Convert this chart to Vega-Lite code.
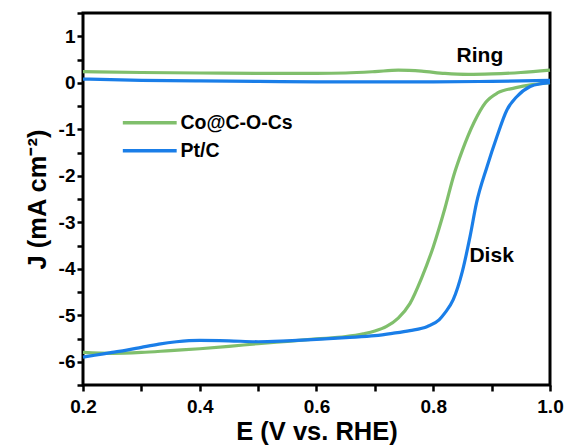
{
  "$schema": "https://vega.github.io/schema/vega-lite/v6.json",
  "width": 467,
  "height": 372,
  "autosize": "none",
  "padding": {"left": 83, "top": 13, "right": 16, "bottom": 60},
  "background": "white",
  "config": {
    "font": "Liberation Sans",
    "view": {"stroke": "black", "strokeWidth": 3},
    "axis": {
      "domain": false,
      "grid": false,
      "tickColor": "black",
      "tickWidth": 2.5,
      "tickSize": 6,
      "labelColor": "black",
      "labelFont": "Liberation Sans",
      "labelFontWeight": "bold",
      "labelFontSize": 19,
      "titleFont": "Liberation Sans",
      "titleFontWeight": "bold",
      "titleFontSize": 25.5,
      "titleColor": "black",
      "labelFlush": false
    }
  },
  "datasets": {
    "curves": [
      {"E": 0.20, "J": -5.80, "sample": "Co@C-O-Cs", "part": "disk"},
      {"E": 0.25, "J": -5.82, "sample": "Co@C-O-Cs", "part": "disk"},
      {"E": 0.30, "J": -5.80, "sample": "Co@C-O-Cs", "part": "disk"},
      {"E": 0.35, "J": -5.76, "sample": "Co@C-O-Cs", "part": "disk"},
      {"E": 0.40, "J": -5.72, "sample": "Co@C-O-Cs", "part": "disk"},
      {"E": 0.45, "J": -5.67, "sample": "Co@C-O-Cs", "part": "disk"},
      {"E": 0.50, "J": -5.61, "sample": "Co@C-O-Cs", "part": "disk"},
      {"E": 0.55, "J": -5.56, "sample": "Co@C-O-Cs", "part": "disk"},
      {"E": 0.60, "J": -5.51, "sample": "Co@C-O-Cs", "part": "disk"},
      {"E": 0.65, "J": -5.46, "sample": "Co@C-O-Cs", "part": "disk"},
      {"E": 0.68, "J": -5.40, "sample": "Co@C-O-Cs", "part": "disk"},
      {"E": 0.70, "J": -5.34, "sample": "Co@C-O-Cs", "part": "disk"},
      {"E": 0.72, "J": -5.24, "sample": "Co@C-O-Cs", "part": "disk"},
      {"E": 0.74, "J": -5.06, "sample": "Co@C-O-Cs", "part": "disk"},
      {"E": 0.76, "J": -4.75, "sample": "Co@C-O-Cs", "part": "disk"},
      {"E": 0.78, "J": -4.20, "sample": "Co@C-O-Cs", "part": "disk"},
      {"E": 0.80, "J": -3.53, "sample": "Co@C-O-Cs", "part": "disk"},
      {"E": 0.82, "J": -2.70, "sample": "Co@C-O-Cs", "part": "disk"},
      {"E": 0.835, "J": -2.00, "sample": "Co@C-O-Cs", "part": "disk"},
      {"E": 0.85, "J": -1.45, "sample": "Co@C-O-Cs", "part": "disk"},
      {"E": 0.87, "J": -0.85, "sample": "Co@C-O-Cs", "part": "disk"},
      {"E": 0.89, "J": -0.42, "sample": "Co@C-O-Cs", "part": "disk"},
      {"E": 0.91, "J": -0.22, "sample": "Co@C-O-Cs", "part": "disk"},
      {"E": 0.94, "J": -0.11, "sample": "Co@C-O-Cs", "part": "disk"},
      {"E": 0.97, "J": -0.04, "sample": "Co@C-O-Cs", "part": "disk"},
      {"E": 1.00, "J": 0.00, "sample": "Co@C-O-Cs", "part": "disk"},
      {"E": 0.20, "J": 0.24, "sample": "Co@C-O-Cs", "part": "ring"},
      {"E": 0.30, "J": 0.22, "sample": "Co@C-O-Cs", "part": "ring"},
      {"E": 0.40, "J": 0.21, "sample": "Co@C-O-Cs", "part": "ring"},
      {"E": 0.50, "J": 0.20, "sample": "Co@C-O-Cs", "part": "ring"},
      {"E": 0.60, "J": 0.20, "sample": "Co@C-O-Cs", "part": "ring"},
      {"E": 0.65, "J": 0.21, "sample": "Co@C-O-Cs", "part": "ring"},
      {"E": 0.70, "J": 0.24, "sample": "Co@C-O-Cs", "part": "ring"},
      {"E": 0.74, "J": 0.27, "sample": "Co@C-O-Cs", "part": "ring"},
      {"E": 0.78, "J": 0.25, "sample": "Co@C-O-Cs", "part": "ring"},
      {"E": 0.82, "J": 0.20, "sample": "Co@C-O-Cs", "part": "ring"},
      {"E": 0.86, "J": 0.18, "sample": "Co@C-O-Cs", "part": "ring"},
      {"E": 0.90, "J": 0.19, "sample": "Co@C-O-Cs", "part": "ring"},
      {"E": 0.95, "J": 0.22, "sample": "Co@C-O-Cs", "part": "ring"},
      {"E": 1.00, "J": 0.27, "sample": "Co@C-O-Cs", "part": "ring"},
      {"E": 0.20, "J": -5.90, "sample": "Pt/C", "part": "disk"},
      {"E": 0.22, "J": -5.86, "sample": "Pt/C", "part": "disk"},
      {"E": 0.25, "J": -5.80, "sample": "Pt/C", "part": "disk"},
      {"E": 0.275, "J": -5.75, "sample": "Pt/C", "part": "disk"},
      {"E": 0.30, "J": -5.69, "sample": "Pt/C", "part": "disk"},
      {"E": 0.33, "J": -5.62, "sample": "Pt/C", "part": "disk"},
      {"E": 0.36, "J": -5.57, "sample": "Pt/C", "part": "disk"},
      {"E": 0.40, "J": -5.54, "sample": "Pt/C", "part": "disk"},
      {"E": 0.45, "J": -5.55, "sample": "Pt/C", "part": "disk"},
      {"E": 0.50, "J": -5.57, "sample": "Pt/C", "part": "disk"},
      {"E": 0.55, "J": -5.55, "sample": "Pt/C", "part": "disk"},
      {"E": 0.60, "J": -5.52, "sample": "Pt/C", "part": "disk"},
      {"E": 0.65, "J": -5.48, "sample": "Pt/C", "part": "disk"},
      {"E": 0.70, "J": -5.44, "sample": "Pt/C", "part": "disk"},
      {"E": 0.73, "J": -5.39, "sample": "Pt/C", "part": "disk"},
      {"E": 0.76, "J": -5.33, "sample": "Pt/C", "part": "disk"},
      {"E": 0.79, "J": -5.24, "sample": "Pt/C", "part": "disk"},
      {"E": 0.81, "J": -5.10, "sample": "Pt/C", "part": "disk"},
      {"E": 0.82, "J": -4.95, "sample": "Pt/C", "part": "disk"},
      {"E": 0.834, "J": -4.67, "sample": "Pt/C", "part": "disk"},
      {"E": 0.85, "J": -4.05, "sample": "Pt/C", "part": "disk"},
      {"E": 0.863, "J": -3.31, "sample": "Pt/C", "part": "disk"},
      {"E": 0.874, "J": -2.59, "sample": "Pt/C", "part": "disk"},
      {"E": 0.892, "J": -1.81, "sample": "Pt/C", "part": "disk"},
      {"E": 0.909, "J": -1.16, "sample": "Pt/C", "part": "disk"},
      {"E": 0.926, "J": -0.59, "sample": "Pt/C", "part": "disk"},
      {"E": 0.943, "J": -0.30, "sample": "Pt/C", "part": "disk"},
      {"E": 0.966, "J": -0.08, "sample": "Pt/C", "part": "disk"},
      {"E": 0.985, "J": -0.02, "sample": "Pt/C", "part": "disk"},
      {"E": 1.00, "J": 0.00, "sample": "Pt/C", "part": "disk"},
      {"E": 0.20, "J": 0.08, "sample": "Pt/C", "part": "ring"},
      {"E": 0.30, "J": 0.05, "sample": "Pt/C", "part": "ring"},
      {"E": 0.40, "J": 0.04, "sample": "Pt/C", "part": "ring"},
      {"E": 0.50, "J": 0.03, "sample": "Pt/C", "part": "ring"},
      {"E": 0.60, "J": 0.02, "sample": "Pt/C", "part": "ring"},
      {"E": 0.70, "J": 0.02, "sample": "Pt/C", "part": "ring"},
      {"E": 0.80, "J": 0.02, "sample": "Pt/C", "part": "ring"},
      {"E": 0.90, "J": 0.03, "sample": "Pt/C", "part": "ring"},
      {"E": 1.00, "J": 0.05, "sample": "Pt/C", "part": "ring"}
    ],
    "notes": [
      {"E": 0.880, "J": 0.58, "label": "Ring"},
      {"E": 0.900, "J": -3.73, "label": "Disk"}
    ]
  },
  "encoding": {
    "x": {
      "field": "E", "type": "quantitative",
      "scale": {"domain": [0.2, 1.0], "nice": false, "zero": false},
      "axis": {
        "title": "E (V vs. RHE)",
        "values": [0.2, 0.3, 0.4, 0.5, 0.6, 0.7, 0.8, 0.9, 1.0],
        "labelOverlap": false,
        "labelExpr": "round(datum.value*10) % 2 == 0 ? format(datum.value, '.1f') : ''",
        "labelPadding": 6,
        "titlePadding": 3
      }
    },
    "y": {
      "field": "J", "type": "quantitative",
      "scale": {"domain": [-6.5, 1.5], "nice": false, "zero": false},
      "axis": {
        "title": "J (mA cm⁻²)",
        "values": [-6.5, -6, -5.5, -5, -4.5, -4, -3.5, -3, -2.5, -2, -1.5, -1, -0.5, 0, 0.5, 1, 1.5],
        "format": ".1~f",
        "labelOverlap": false,
        "labelExpr": "indexof(datum.label, '.') >= 0 ? '' : replace(datum.label, '−', '-')",
        "labelPadding": 2,
        "titlePadding": 8
      }
    }
  },
  "layer": [
    {
      "data": {"name": "curves"},
      "mark": {"type": "line", "strokeWidth": 3.2, "interpolate": "monotone"},
      "encoding": {
        "color": {
          "field": "sample", "type": "nominal",
          "scale": {"domain": ["Co@C-O-Cs", "Pt/C"], "range": ["#80bf6c", "#1a7ee8"]},
          "legend": {
            "title": null,
            "orient": "none",
            "legendX": 57,
            "legendY": 100,
            "symbolType": "M-5,0H5",
            "symbolSize": 116,
            "symbolStrokeWidth": 3.5,
            "labelFontSize": 19.5,
            "labelFontWeight": "bold",
            "labelColor": "black",
            "labelOffset": 21,
            "rowPadding": 7,
            "padding": 0
          }
        },
        "detail": {"field": "part", "type": "nominal"}
      }
    },
    {
      "data": {"name": "notes"},
      "mark": {"type": "text", "fontSize": 21, "fontWeight": "bold", "color": "black", "align": "center", "baseline": "middle"},
      "encoding": {
        "text": {"field": "label"}
      }
    }
  ]
}
